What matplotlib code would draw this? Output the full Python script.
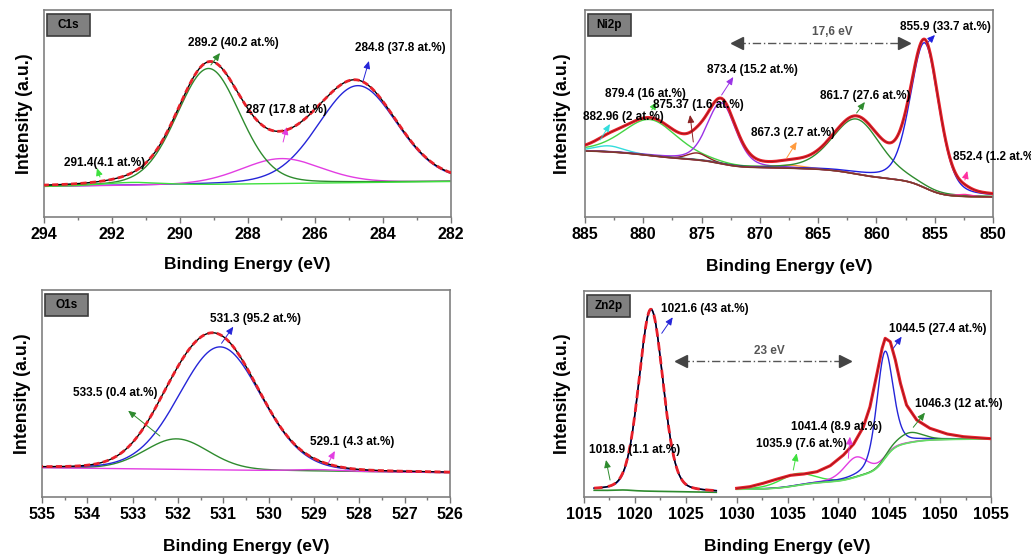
import numpy as np
import matplotlib
matplotlib.use("Agg")
import matplotlib.pyplot as plt
from matplotlib.patches import Rectangle
from matplotlib.ticker import MultipleLocator

plt.rcParams["font.family"] = ["Liberation Sans", "DejaVu Sans"]
plt.rcParams["font.weight"] = "bold"

# ---------------- data (intensities in arbitrary units) ----------------
# C1s
c1s_labels = ["291.4(4.1 at.%)", "289.2 (40.2 at.%)", "287 (17.8 at.%)", "284.8 (37.8 at.%)"]
c1s_centers = [291.4, 289.15, 287.0, 284.75]
c1s_heights = [3, 116, 25, 97]
c1s_fwhm = [2.0, 2.2, 2.8, 2.75]
c1s_bg = [35.5, 30.5]  # baseline at 282 / 294 eV

# Ni2p
ni_labels = ["882.96 (2 at.%)", "879.4 (16 at.%)", "875.37 (1.6 at.%)", "873.4 (15.2 at.%)",
             "867.3 (2.7 at.%)", "861.7 (27.6 at.%)", "855.9 (33.7 at.%)", "852.4 (1.2 at.%)"]
ni_centers = [882.96, 879.4, 875.37, 873.3, 867.3, 861.7, 855.85, 852.4]
ni_heights = [6, 36, 7, 61, 3, 55, 145, 2]
ni_fwhm = [3.0, 5.5, 2.0, 2.9, 3.0, 4.9, 2.9, 1.5]
ni_bg = [20, 66]  # Shirley background limits at 850 / 885 eV

# O1s
o1s_labels = ["533.5 (0.4 at.%)", "531.3 (95.2 at.%)", "529.1 (4.3 at.%)"]
o1s_centers = [532.03, 531.07, 528.9]
o1s_heights = [30.5, 123, 1.5]
o1s_fwhm = [1.66, 2.14, 1.2]
o1s_bg = [24.3, 29.3]  # baseline at 526 / 535 eV

# Zn2p3/2 (1016-1028 eV)
zn1_labels = ["1018.9 (1.1 at.%)", "1021.6 (43 at.%)"]
zn1_centers = [1018.9, 1021.58]
zn1_heights = [0.8, 182]
zn1_fwhm = [2.0, 2.8]
zn1_bg = [6.7, 4.7]  # baseline at 1016 / 1028 eV

# Zn2p1/2 (1030-1055 eV)
zn2_labels = ["1035.9 (7.6 at.%)", "1041.4 (8.9 at.%)", "1044.5 (27.4 at.%)", "1046.3 (12 at.%)"]
zn2_centers = [1035.9, 1041.7, 1044.55, 1047.0]
zn2_heights = [12, 20, 107, 10]
zn2_fwhm = [4.0, 2.8, 1.9, 3.0]
zn2_bg = [7.7, 58]  # Shirley background limits at 1030 / 1055 eV
zn2_fit_x = [1030.0, 1031.3, 1032.6, 1033.9, 1035.3, 1036.6, 1037.9, 1039.2, 1040.5, 1041.5,
             1042.45, 1043.1, 1043.8, 1044.3, 1044.6, 1045.1, 1045.6, 1046.1, 1046.7, 1047.7,
             1049.0, 1050.7, 1052.3, 1055.0]
zn2_fit_y = [8.7, 10.3, 13.7, 17.7, 21.7, 23, 25.3, 31.3, 42, 53,
             70, 90, 123.7, 148.7, 158.7, 155.3, 137, 113.7, 92, 77,
             68.7, 63, 60.3, 58.3]

RED = "#e8202a"
GREEN = "#2e8b2e"
LGREEN = "#3ee03e"
BLUE = "#2525d8"
MAGENTA = "#e23de2"


def pv(x, c, h, w, eta):
    g = np.exp(-4 * np.log(2) * ((x - c) / w) ** 2)
    l = 1 / (1 + 4 * ((x - c) / w) ** 2)
    return h * ((1 - eta) * g + eta * l)


def shirley(total, low, high):
    cum = np.cumsum(total)
    return low + (high - low) * cum / cum[-1]


def style(ax, xlim, major, minor, name, ylab_x, xlab_y, ytop=207):
    ax.set_xlim(*xlim)
    ax.set_ylim(0, ytop)
    ax.set_yticks([])
    ax.xaxis.set_major_locator(MultipleLocator(major))
    ax.xaxis.set_minor_locator(MultipleLocator(minor))
    ax.tick_params(axis="x", which="major", direction="out", length=4, width=1,
                   color="#777777", labelsize=11.5, pad=3)
    ax.tick_params(axis="x", which="minor", direction="out", length=2.5, width=1, color="#777777")
    for s in ax.spines.values():
        s.set_color("#808080")
        s.set_linewidth(1.2)
    ax.set_xlabel("Binding Energy (eV)", fontsize=12.5, fontweight="bold")
    ax.xaxis.set_label_coords(0.5, xlab_y)
    ax.set_ylabel("Intensity (a.u.)", fontsize=12.8, fontweight="bold")
    ax.yaxis.set_label_coords(ylab_x, 0.5)
    ax.add_patch(Rectangle((0.008, 0.875), 0.104, 0.107, transform=ax.transAxes,
                           facecolor="#808080", edgecolor="#3c3c3c", lw=1.2, zorder=5))
    ax.text(0.06, 0.928, name, transform=ax.transAxes, ha="center", va="center",
            fontsize=8.5, fontweight="bold", zorder=6)


def note(ax, text, pos, tail, head, color, ha="center"):
    ax.annotate("", xy=head, xytext=tail,
                arrowprops=dict(arrowstyle="-|>,head_length=0.45,head_width=0.2",
                                color=color, lw=0.7, shrinkA=0, shrinkB=0))
    ax.text(pos[0], pos[1], text, ha=ha, va="center", fontsize=8.5, fontweight="bold", zorder=7)


def gap(ax, x1, x2, y, text, tx, ty):
    ax.plot([x1, x2], [y, y], color="#555555", lw=1, linestyle=(0, (6, 2, 1, 2)))
    ax.plot([x1], [y], marker="<", color="#444444", markersize=8, linestyle="none")
    ax.plot([x2], [y], marker=">", color="#444444", markersize=8, linestyle="none")
    ax.text(tx, ty, text, ha="center", va="center", fontsize=8.5, fontweight="bold", color="#555555")


fig = plt.figure(figsize=(10.31, 5.6), dpi=100)
ax1 = fig.add_axes([44 / 1031, 1 - 217 / 560, 407 / 1031, 207 / 560])
ax2 = fig.add_axes([585 / 1031, 1 - 217 / 560, 408 / 1031, 207 / 560])
ax3 = fig.add_axes([42 / 1031, 1 - 497 / 560, 408 / 1031, 207 / 560])
ax4 = fig.add_axes([584 / 1031, 1 - 497 / 560, 407 / 1031, 206 / 560])

# ---------------- C1s ----------------
x = np.linspace(282, 294, 700)
bg = np.linspace(c1s_bg[0], c1s_bg[1], x.size)
comps = [pv(x, c, h, w, 0.15) for c, h, w in zip(c1s_centers, c1s_heights, c1s_fwhm)]
for comp, col in zip(comps[::-1], [BLUE, MAGENTA, GREEN, LGREEN]):
    ax1.plot(x, bg + comp, color=col, lw=1)
env = bg + np.sum(comps, axis=0)
ax1.plot(x, env, color="black", lw=1, zorder=3)
ax1.plot(x, env, color=RED, lw=2, linestyle=(0, (2.2, 1.2)), zorder=4)
style(ax1, (294, 282), 2, 1, "C1s", -0.027, -0.193)
note(ax1, c1s_labels[0], (292.2, 54), (292.35, 40), (292.44, 49), LGREEN)
note(ax1, c1s_labels[1], (288.43, 174), (289.08, 152), (288.81, 164), GREEN)
note(ax1, c1s_labels[2], (286.84, 107), (286.95, 75), (286.84, 90), MAGENTA)
note(ax1, c1s_labels[3], (283.5, 169), (284.6, 135), (284.42, 156), BLUE)

# ---------------- Ni2p ----------------
x = np.linspace(850, 885, 900)
comps = [pv(x, c, h, w, 0.3) for c, h, w in zip(ni_centers, ni_heights, ni_fwhm)]
bg = shirley(np.sum(comps, axis=0), ni_bg[0], ni_bg[1])
ni_colors = ["#33dddd", "#44d444", "#8b2323", "#9a32e6", "#ff9a3c", GREEN, "#2020e0", "#ff2fa0"]
for comp, col in zip(comps, ni_colors):
    ax2.plot(x, bg + comp, color=col, lw=1)
ax2.plot(x, bg, color="#7b3a2a", lw=1.2, zorder=2.5)
env = bg + np.sum(comps, axis=0)
ax2.plot(x, env, color=RED, lw=2.2, zorder=3)
ax2.plot(x, env, color="black", lw=0.5, alpha=0.4, zorder=4)
style(ax2, (885, 850), 5, 2.5, "Ni2p", -0.034, -0.203)
ni_text = [(881.74, 100), (879.85, 123), (875.31, 112), (870.61, 147),
           (867.16, 84), (860.98, 121), (854.06, 190)]
ni_tail = [(883.7, 77), (879.28, 107), (875.71, 75), (873.28, 122),
           (867.7, 59), (861.7, 104), (855.56, 175), (852.41, 37)]
ni_head = [(882.86, 93), (878.85, 115), (875.99, 102), (872.28, 140),
           (866.84, 75), (860.99, 115), (854.98, 182), (852.21, 46)]
for i in range(7):
    note(ax2, ni_labels[i], ni_text[i], ni_tail[i], ni_head[i], ni_colors[i])
# this label runs past the right edge of the figure, as in the original
note(ax2, ni_labels[7], (853.46, 60), ni_tail[7], ni_head[7], ni_colors[7], ha="left")
gap(ax2, 872.0, 857.6, 174, "17,6 eV", 863.8, 185)

# ---------------- O1s ----------------
x = np.linspace(526, 535, 700)
bg = np.linspace(o1s_bg[0], o1s_bg[1], x.size)
comps = [pv(x, c, h, w, 0.1) for c, h, w in zip(o1s_centers, o1s_heights, o1s_fwhm)]
for comp, col in zip(comps, [GREEN, BLUE, MAGENTA]):
    ax3.plot(x, bg + comp, color=col, lw=1)
env = bg + np.sum(comps, axis=0)
ax3.plot(x, env, color="black", lw=1, zorder=3)
ax3.plot(x, env, color=RED, lw=2, linestyle=(0, (2.2, 1.2)), zorder=4)
style(ax3, (535, 526), 1, 0.5, "O1s", -0.026, -0.204)
note(ax3, o1s_labels[0], (533.39, 103.7), (532.4, 61), (533.1, 86.3), GREEN)
note(ax3, o1s_labels[1], (530.3, 177.7), (531.04, 153.7), (530.78, 170.3), BLUE)
note(ax3, o1s_labels[2], (528.15, 55.3), (528.68, 34.3), (528.54, 46), MAGENTA)

# ---------------- Zn2p ----------------
x = np.linspace(1016, 1028, 500)
bg = np.linspace(zn1_bg[0], zn1_bg[1], x.size)
comps = [pv(x, c, h, w, 0.2) for c, h, w in zip(zn1_centers, zn1_heights, zn1_fwhm)]
for comp, col in zip(comps, [GREEN, BLUE]):
    ax4.plot(x, bg + comp, color=col, lw=1.2)
env = bg + np.sum(comps, axis=0)
ax4.plot(x, env, color="black", lw=1, zorder=3)
ax4.plot(x, env, color=RED, lw=2, linestyle=(0, (3, 2)), zorder=4)

x = np.linspace(1030, 1055, 900)
comps = [pv(x, c, h, w, 0.35) for c, h, w in zip(zn2_centers, zn2_heights, zn2_fwhm)]
bg = shirley(np.sum(comps, axis=0), zn2_bg[0], zn2_bg[1])
for comp, col in zip(comps, [LGREEN, MAGENTA, BLUE, GREEN]):
    ax4.plot(x, bg + comp, color=col, lw=1)
ax4.plot(x, bg, color="#66dd66", lw=1.2, zorder=2.5)
ax4.plot(zn2_fit_x, zn2_fit_y, color=RED, lw=2.2, zorder=3)
ax4.plot(zn2_fit_x, zn2_fit_y, color="black", lw=0.5, alpha=0.4, zorder=4)
style(ax4, (1015, 1055), 5, 2.5, "Zn2p", -0.033, -0.204, ytop=206)
note(ax4, zn1_labels[0], (1019.94, 47), (1017.56, 17), (1017.16, 37), GREEN)
note(ax4, zn1_labels[1], (1026.9, 187.7), (1022.64, 163.7), (1023.72, 179.7), BLUE)
note(ax4, zn2_labels[0], (1036.33, 53), (1035.57, 27), (1035.9, 43.7), LGREEN)
note(ax4, zn2_labels[1], (1039.77, 70.3), (1040.98, 38.7), (1041.14, 60.3), MAGENTA)
note(ax4, zn2_labels[2], (1049.8, 167.7), (1045.4, 148.7), (1046.22, 160.3), BLUE)
note(ax4, zn2_labels[3], (1051.8, 92.7), (1047.36, 69.7), (1048.51, 84.3), GREEN)
gap(ax4, 1024.5, 1040.7, 136, "23 eV", 1033.2, 146.3)

fig.savefig("out.png", dpi=100)
